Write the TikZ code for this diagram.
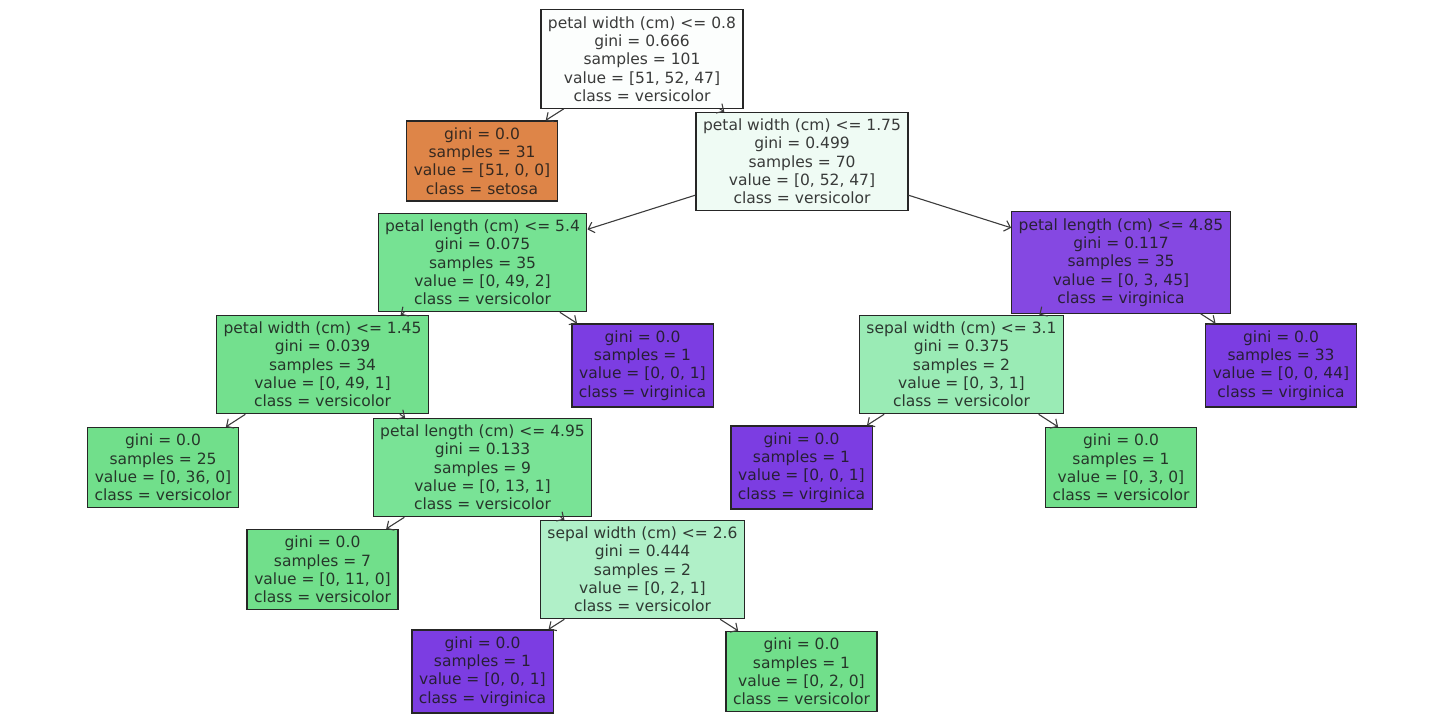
\documentclass[tikz,border=0pt]{standalone}
\usepackage{fontspec}
\setmainfont{DejaVu Sans}
\usetikzlibrary{arrows.meta}
\definecolor{cRoot}{RGB}{252,254,253}
\definecolor{cSet}{RGB}{222,133,72}
\definecolor{cN2}{RGB}{239,251,244}
\definecolor{cA}{RGB}{118,226,147}
\definecolor{cB}{RGB}{115,224,142}
\definecolor{cC}{RGB}{121,227,150}
\definecolor{cG}{RGB}{113,223,139}
\definecolor{cD}{RGB}{176,240,200}
\definecolor{cE}{RGB}{154,235,181}
\definecolor{cP}{RGB}{124,61,226}
\definecolor{cQ}{RGB}{133,72,226}
\definecolor{edge}{RGB}{60,60,60}
\definecolor{txt}{RGB}{25,25,25}
\tikzset{
  tree/.style={draw=black!85, line width=1.2pt, align=center, inner xsep=7pt, inner ysep=6.6pt,
    font=\fontsize{15.5}{18.3}\selectfont, text=txt, text opacity=0.85},
  link/.style={draw=edge, line width=1.1pt, -{Straight Barb[length=5.5pt,width=11pt]}}
}
\begin{document}
\begin{tikzpicture}[x=1pt,y=-1pt]
\useasboundingbox (0,0) rectangle (1446,728);
\node[tree, fill=cRoot] (n0) at (642,59) {petal width (cm) <= 0.8\\gini = 0.666\\samples = 101\\value = [51, 52, 47]\\class = versicolor};
\node[tree, fill=cSet] (n1) at (482,161) {gini = 0.0\\samples = 31\\value = [51, 0, 0]\\class = setosa};
\node[tree, fill=cN2] (n2) at (802,161.5) {petal width (cm) <= 1.75\\gini = 0.499\\samples = 70\\value = [0, 52, 47]\\class = versicolor};
\node[tree, fill=cA] (n3) at (482.5,262.5) {petal length (cm) <= 5.4\\gini = 0.075\\samples = 35\\value = [0, 49, 2]\\class = versicolor};
\node[tree, fill=cQ] (n4) at (1121,262.5) {petal length (cm) <= 4.85\\gini = 0.117\\samples = 35\\value = [0, 3, 45]\\class = virginica};
\node[tree, fill=cB] (n5) at (322.5,364.5) {petal width (cm) <= 1.45\\gini = 0.039\\samples = 34\\value = [0, 49, 1]\\class = versicolor};
\node[tree, fill=cP] (n6) at (642.5,365.5) {gini = 0.0\\samples = 1\\value = [0, 0, 1]\\class = virginica};
\node[tree, fill=cE] (n7) at (961.5,364.5) {sepal width (cm) <= 3.1\\gini = 0.375\\samples = 2\\value = [0, 3, 1]\\class = versicolor};
\node[tree, fill=cP] (n8) at (1281,365.5) {gini = 0.0\\samples = 33\\value = [0, 0, 44]\\class = virginica};
\node[tree, fill=cG] (n9) at (163,467.5) {gini = 0.0\\samples = 25\\value = [0, 36, 0]\\class = versicolor};
\node[tree, fill=cC] (n10) at (482.5,467.5) {petal length (cm) <= 4.95\\gini = 0.133\\samples = 9\\value = [0, 13, 1]\\class = versicolor};
\node[tree, fill=cP] (n11) at (801.5,467.5) {gini = 0.0\\samples = 1\\value = [0, 0, 1]\\class = virginica};
\node[tree, fill=cG] (n12) at (1121,467.5) {gini = 0.0\\samples = 1\\value = [0, 3, 0]\\class = versicolor};
\node[tree, fill=cG] (n13) at (322.5,569.5) {gini = 0.0\\samples = 7\\value = [0, 11, 0]\\class = versicolor};
\node[tree, fill=cD] (n14) at (642.5,569.5) {sepal width (cm) <= 2.6\\gini = 0.444\\samples = 2\\value = [0, 2, 1]\\class = versicolor};
\node[tree, fill=cP] (n15) at (482.5,671.5) {gini = 0.0\\samples = 1\\value = [0, 0, 1]\\class = virginica};
\node[tree, fill=cG] (n16) at (801.5,671.5) {gini = 0.0\\samples = 1\\value = [0, 2, 0]\\class = versicolor};
\draw[link] (n0) -- (n1);
\draw[link] (n0) -- (n2);
\draw[link] (n2) -- (n3);
\draw[link] (n2) -- (n4);
\draw[link] (n3) -- (n5);
\draw[link] (n3) -- (n6);
\draw[link] (n4) -- (n7);
\draw[link] (n4) -- (n8);
\draw[link] (n5) -- (n9);
\draw[link] (n5) -- (n10);
\draw[link] (n7) -- (n11);
\draw[link] (n7) -- (n12);
\draw[link] (n10) -- (n13);
\draw[link] (n10) -- (n14);
\draw[link] (n14) -- (n15);
\draw[link] (n14) -- (n16);
\end{tikzpicture}
\end{document}
